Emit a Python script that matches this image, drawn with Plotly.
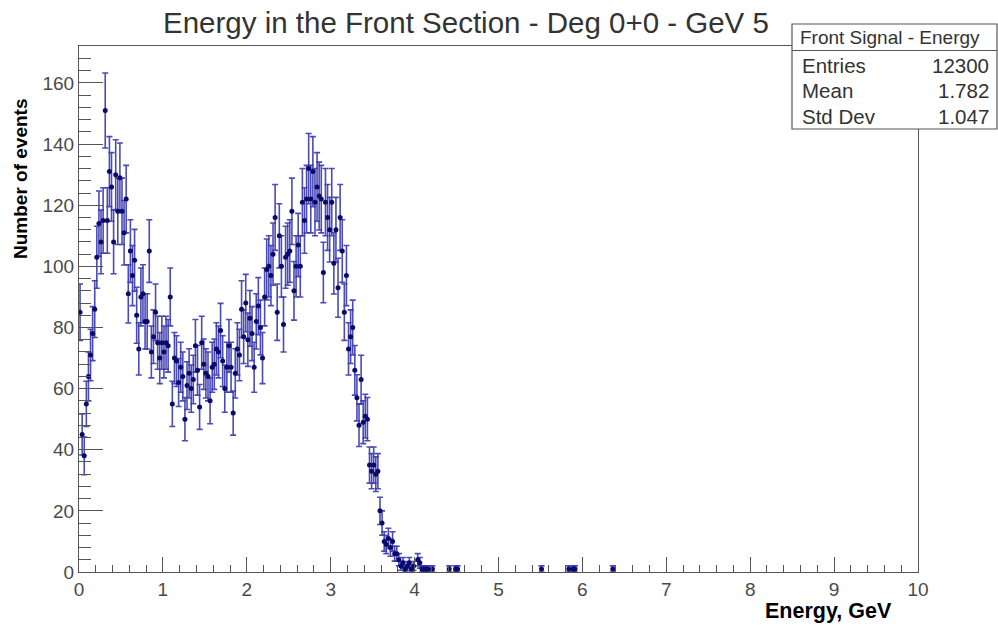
import math
import plotly.graph_objects as go

# ---------------- data ----------------
BIN_WIDTH = 0.025  # GeV, 400 bins on [0, 10]

# counts of the first 169 bins (0.000 .. 4.225 GeV)
counts = [
    85, 45, 38, 55, 64, 71, 78, 86, 103, 114,
    108, 115, 151, 115, 131, 126, 108, 130, 118, 129,
    118, 111, 122, 91, 105, 97, 102, 84, 73, 90,
    91, 82, 82, 105, 72, 77, 85, 75, 70, 75,
    72, 75, 74, 90, 55, 70, 69, 62, 67, 64,
    50, 61, 65, 60, 63, 74, 66, 54, 75, 68,
    65, 64, 56, 67, 68, 73, 72, 79, 69, 60,
    67, 74, 67, 52, 65, 73, 71, 86, 77, 88,
    76, 83, 78, 67, 82, 87, 80, 70, 90, 99,
    100, 97, 104, 116, 85, 110, 100, 81, 103, 104,
    105, 118, 92, 100, 107, 100, 121, 115, 122, 132,
    122, 131, 121, 126, 123, 122, 98, 121, 116, 112,
    121, 101, 112, 93, 116, 105, 85, 97, 73, 77,
    80, 66, 57, 48, 63, 49, 51, 50, 35, 33,
    35, 32, 33, 20, 16, 10, 9, 11, 8, 10,
    6, 6, 4, 2, 3, 1, 2, 3, 1, 2,
    0, 4, 3, 1, 1, 1, 1, 0, 1,
]
# isolated single-entry bins in the tail (bin index -> count)
tail_bins = [176, 179, 180, 220, 233, 235, 236, 254]
tail_counts = [1, 1, 1, 1, 1, 1, 1, 1]

title_text = "Energy in the Front Section - Deg 0+0 - GeV 5"
stats_title = "Front Signal - Energy"
stats_labels = ["Entries", "Mean", "Std Dev"]
stats_values = ["12300", "1.782", "1.047"]

# -------------- build points --------------
idx = list(range(len(counts))) + tail_bins
val = counts + tail_counts
xs, ys, es = [], [], []
for i, c in zip(idx, val):
    if c <= 0:
        continue
    xs.append((i + 0.5) * BIN_WIDTH)
    ys.append(c)
    es.append(math.sqrt(c))

# -------------- geometry helpers --------------
W, H = 998, 628
L, R, T, B = 79, 918, 46, 572


def px(x):
    return (x - L) / (R - L)


def py(y):
    return (B - y) / (B - T)


FONT = "Liberation Sans, Arial, Helvetica, sans-serif"

fig = go.Figure()
fig.add_trace(go.Scatter(
    x=xs, y=ys, mode="markers",
    marker=dict(color="#0a0a6a", size=5, symbol="circle"),
    error_y=dict(type="data", array=es, visible=True,
                 color="rgba(55,55,175,0.9)", thickness=1.6, width=3),
    hoverinfo="x+y", showlegend=False,
))

axis_common = dict(
    showline=True, mirror=True, linecolor="#555", linewidth=1.2,
    showgrid=False, zeroline=False, ticks="inside", tickcolor="#555",
    tickwidth=1.2,
    tickfont=dict(family=FONT, size=19, color="#4a4a4a"),
)

fig.update_layout(
    width=W, height=H,
    margin=dict(l=L, r=W - R, t=T, b=H - B),
    paper_bgcolor="white", plot_bgcolor="white",
    xaxis=dict(range=[0, 10], dtick=1, tick0=0, ticklen=15,
               minor=dict(dtick=0.2, ticklen=7, ticks="inside",
                          tickcolor="#555", tickwidth=1.2),
               **axis_common),
    yaxis=dict(range=[0, 172.1], dtick=20, tick0=0, ticklen=24,
               minor=dict(dtick=4, ticklen=12, ticks="inside",
                          tickcolor="#555", tickwidth=1.2),
               **axis_common),
)

annotations = [
    dict(text=title_text, x=px(466), y=py(22), xref="paper", yref="paper",
         showarrow=False, xanchor="center", yanchor="middle",
         font=dict(family=FONT, size=29.5, color="#333")),
    dict(text="<b>Number of events</b>", x=px(20), y=py(179), xref="paper",
         yref="paper", showarrow=False, textangle=-90, xanchor="center",
         yanchor="middle", font=dict(family=FONT, size=19, color="#000")),
    dict(text="<b>Energy, GeV</b>", x=px(894), y=py(611), xref="paper",
         yref="paper", showarrow=False, xanchor="right", yanchor="middle",
         font=dict(family=FONT, size=21.5, color="#000")),
    dict(text=stats_title, x=px(890), y=py(37.5), xref="paper", yref="paper",
         showarrow=False, xanchor="center", yanchor="middle",
         font=dict(family=FONT, size=19, color="#333")),
]
row_y = [65, 90, 116]
for lab, v, yy in zip(stats_labels, stats_values, row_y):
    annotations.append(dict(text=lab, x=px(800), y=py(yy), xref="paper",
                            yref="paper", showarrow=False, xanchor="left",
                            yanchor="middle",
                            font=dict(family=FONT, size=20.5, color="#333")))
    annotations.append(dict(text=v, x=px(991), y=py(yy), xref="paper",
                            yref="paper", showarrow=False, xanchor="right",
                            yanchor="middle",
                            font=dict(family=FONT, size=20.5, color="#333")))

shapes = [
    dict(type="rect", xref="paper", yref="paper",
         x0=px(792), x1=px(997), y0=py(129), y1=py(24),
         line=dict(color="#555", width=1.2), fillcolor="white", layer="above"),
    dict(type="line", xref="paper", yref="paper",
         x0=px(792), x1=px(997), y0=py(50.5), y1=py(50.5),
         line=dict(color="#555", width=1.2), layer="above"),
]
fig.update_layout(annotations=annotations, shapes=shapes)

fig.write_html("out.html")
